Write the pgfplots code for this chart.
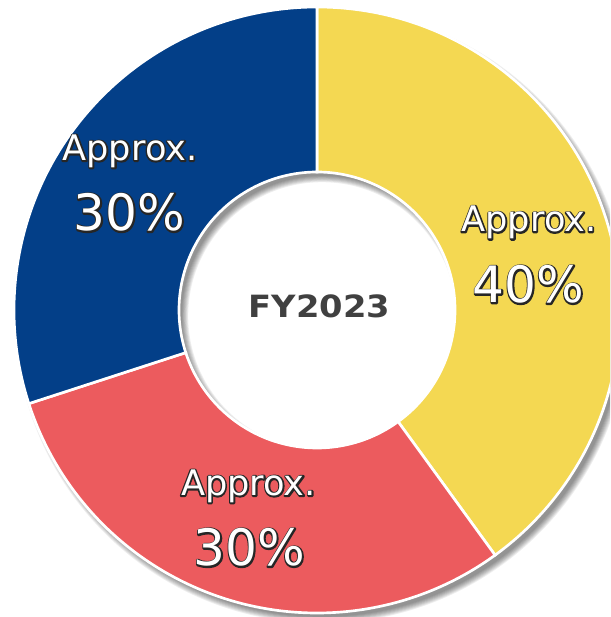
\documentclass[border=0pt]{standalone}
\usepackage{pgfplots}
\usepackage{pgfplotstable}
\pgfplotsset{compat=1.18}
\usepackage{fontspec}
\setmainfont{DejaVu Sans}
\newfontfamily\fyfont{DejaVu Sans}[FakeStretch=1.1]
\definecolor{cyellow}{HTML}{F4D852}
\definecolor{cred}{HTML}{EC5B5E}
\definecolor{cblue}{HTML}{033F88}
\definecolor{ctext}{HTML}{404040}
\newcommand\fa{\fontsize{26.4}{30}\selectfont}
\newcommand\fb{\fontsize{37.6}{44}\selectfont}
\newcommand\strk[1]{\special{pdf:literal direct q 1 Tr 2.2 w 1 j 0.15 0.15 0.15 RG}#1\special{pdf:literal direct Q}}
\pgfplotstableread{
x y share cum idx
317 307 40 0 0
317 307 30 40 1
317 307 30 70 2
}\donutdata
\begin{document}
\begin{tikzpicture}
\useasboundingbox (0,0) rectangle (457.5pt,462.75pt);
\begin{axis}[scale only axis, width=457.5pt, height=462.75pt,
  xmin=0, xmax=610, ymin=0, ymax=617, hide axis,
  at={(0,0)}, anchor=south west,
  clip marker paths=true]
% soft shadow
\pgfplotsinvokeforeach{1,...,8}{
  \fill[black, opacity=0.065, even odd rule] (axis cs:322,301)
    circle[radius={(300+#1*0.9)*0.75pt}] circle[radius={(141-#1*0.9)*0.75pt}];
}
\addplot[only marks, scatter, mark options={opacity=0},
  visualization depends on={90-3.6*\thisrow{cum} \as \angA},
  visualization depends on={90-3.6*(\thisrow{cum}+\thisrow{share}) \as \angB},
  visualization depends on={\thisrow{idx} \as \widx},
  scatter/@pre marker code/.code={%
    \pgfmathtruncatemacro\wi{\widx}%
    \ifcase\wi \def\wcol{cyellow}\or\def\wcol{cred}\else\def\wcol{cblue}\fi
    \fill[\wcol, draw=white, line width=2pt, line join=miter, opacity=1]
      (\angA:227.25pt) arc[start angle=\angA, end angle=\angB, radius=227.25pt]
      -- (\angB:103.5pt) arc[start angle=\angB, end angle=\angA, radius=103.5pt] -- cycle;},
  scatter/@post marker code/.code={}
] table[x=x, y=y] {\donutdata};
\node[anchor=base, text=ctext, font=\fyfont\bfseries\fontsize{23}{26}\selectfont]
  at (axis cs:319.5,299) {FY2023};
\coordinate (ya) at (axis cs:529,385);
\coordinate (yb) at (axis cs:528.5,314);
\coordinate (ba) at (axis cs:130,456.3);
\coordinate (bb) at (axis cs:129.5,386);
\coordinate (ra) at (axis cs:248.5,121.3);
\coordinate (rb) at (axis cs:249.5,51);
\end{axis}
\foreach \cc/\tt/\ff in {ya/Approx./\fa, yb/40\%/\fb, ba/Approx./\fa, bb/30\%/\fb, ra/Approx./\fa, rb/30\%/\fb}{
  \node[anchor=base, font=\ff, text=black] at (\cc) {\strk{\tt}};
  \node[anchor=base, font=\ff, text=white] at (\cc) {\tt};
}
\end{tikzpicture}
\end{document}
